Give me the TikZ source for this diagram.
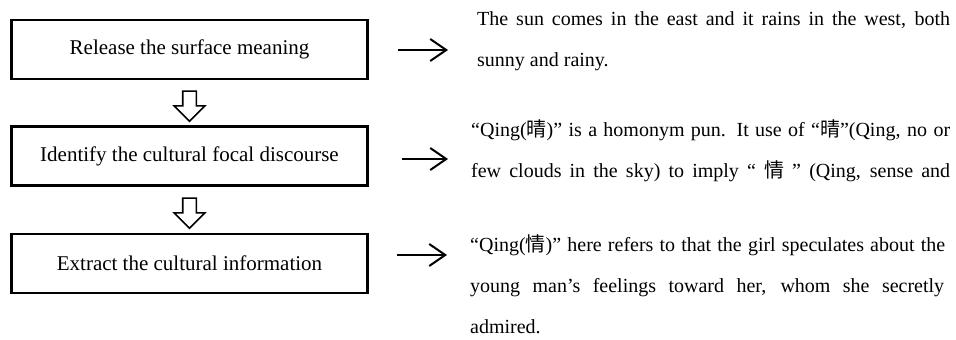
\documentclass[tikz,border=0pt]{standalone}
\usepackage{fontspec}
\setmainfont{Liberation Serif}
\newfontfamily\cjk{Noto Sans CJK SC}
\usetikzlibrary{shapes.arrows,arrows.meta,calc}
\begin{document}
\begin{tikzpicture}[x=1pt,y=-1pt,
  stepbox/.style={draw,line width=2.2pt,minimum width=356pt,minimum height=59pt,inner sep=0pt,font=\fontsize{21}{25}\selectfont},
  hollow/.style={single arrow,draw,line width=1.6pt,rotate=-90,minimum height=30pt,minimum width=29pt,inner xsep=0pt,inner ysep=6pt,single arrow head extend=8.5pt},
  rarrow/.style={line width=2pt,-{Straight Barb[length=16pt,width=22pt,line width=2pt]}},
  para/.style={anchor=base west,inner sep=0pt,align=left,font=\fontsize{20}{41}\selectfont}]
\useasboundingbox (0,0) rectangle (956,340);
\node[stepbox] (b1) at (189.5,49.5) {Release the surface meaning};
\node[stepbox] (b2) at (189.5,156) {Identify the cultural focal discourse};
\node[stepbox] (b3) at (189.5,263.5) {Extract the cultural information};
\node[hollow] (h1) at ($(b1.south)!0.5!(b2.north)$) {};
\node[hollow] (h2) at ($(b2.south)!0.5!(b3.north)$) {};
\coordinate (r1s) at (398,50); \coordinate (r1e) at (448,50);
\coordinate (r2s) at (402,159); \coordinate (r2e) at (448,159);
\coordinate (r3s) at (397,255); \coordinate (r3e) at (447,255);
\draw[rarrow] (r1s) -- (r1e);
\draw[rarrow] (r2s) -- (r2e);
\draw[rarrow] (r3s) -- (r3e);
\node[para] (p1) at (477,66) {\makebox[473pt][s]{The sun comes in the east and it rains in the west, both}\\sunny and rainy.};
\node[para] (p2) at (471,177) {\makebox[479pt][s]{“Qing({\cjk 晴})” is a homonym pun. It use of “{\cjk 晴}”(Qing, no or}\\\makebox[479pt][s]{few clouds in the sky) to imply “ {\cjk 情} ” (Qing, sense and}};
\node[para] (p3) at (470,333) {\makebox[475pt][s]{“Qing({\cjk 情})” here refers to that the girl speculates about the}\\\makebox[474pt][s]{young man’s feelings toward her, whom she secretly}\\admired.};
\end{tikzpicture}
\end{document}
